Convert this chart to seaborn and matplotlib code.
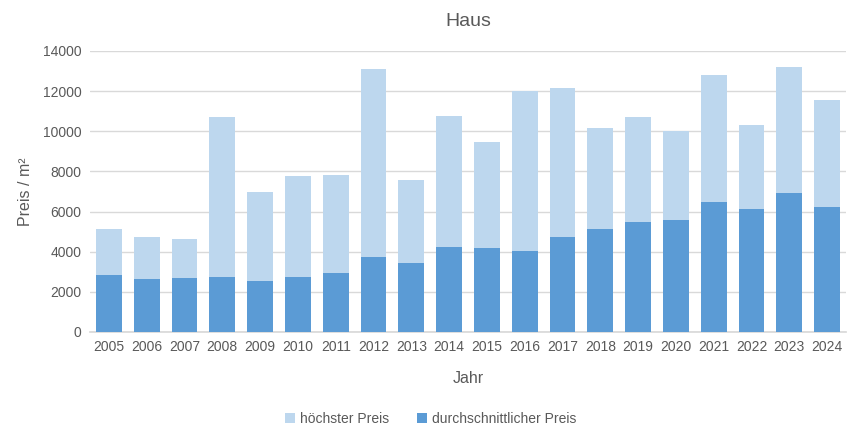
import matplotlib
matplotlib.use("Agg")
import matplotlib.pyplot as plt
import seaborn as sns
import pandas as pd
from matplotlib.patches import Patch

years = ["2005", "2006", "2007", "2008", "2009", "2010", "2011", "2012", "2013", "2014",
         "2015", "2016", "2017", "2018", "2019", "2020", "2021", "2022", "2023", "2024"]
hoechster = [5140, 4740, 4640, 10730, 6990, 7780, 7830, 13120, 7580, 10780,
             9480, 11990, 12170, 10180, 10730, 10030, 12820, 10330, 13220, 11580]
durchschnitt = [2840, 2640, 2690, 2740, 2540, 2740, 2940, 3740, 3440, 4240,
                4190, 4040, 4740, 5140, 5490, 5590, 6490, 6140, 6940, 6240]

sns.set_theme(style="white")
plt.rcParams['font.family'] = ['Liberation Sans', 'DejaVu Sans']

light = "#BDD7EE"
dark = "#5B9BD5"
txt = "#595959"

df = pd.DataFrame({"Jahr": years, "hoch": hoechster, "mittel": durchschnitt})

fig = plt.figure(figsize=(8.53, 4.33), dpi=100)
ax = fig.add_axes([0.1055, 0.2333, 0.8863, 0.649])

sns.barplot(data=df, x="Jahr", y="hoch", color=light, width=0.68, saturation=1, ax=ax,
            zorder=2, linewidth=0, edgecolor="none")
sns.barplot(data=df, x="Jahr", y="mittel", color=dark, width=0.68, saturation=1, ax=ax,
            zorder=3, linewidth=0, edgecolor="none")

ax.set_ylim(0, 14000)
ax.set_yticks(range(0, 14001, 2000))
ax.yaxis.grid(True, color="#D9D9D9", linewidth=1)
ax.set_axisbelow(True)
for s in ["top", "right", "left"]:
    ax.spines[s].set_visible(False)
ax.spines["bottom"].set_color("#D9D9D9")
ax.tick_params(axis="both", length=0, labelsize=10, colors=txt, pad=6)
ax.set_xlim(-0.5, len(years) - 0.5)

ax.set_xlabel("Jahr", fontsize=11.5, color=txt, labelpad=12)
ax.set_ylabel("Preis / m²", fontsize=11.5, color=txt, labelpad=7)
ax.set_title("Haus", fontsize=14, color=txt, pad=18)

handles = [Patch(facecolor=light, edgecolor="none", label="höchster Preis"),
           Patch(facecolor=dark, edgecolor="none", label="durchschnittlicher Preis")]
leg = fig.legend(handles=handles, loc="center", bbox_to_anchor=(0.505, 0.032), ncol=2,
                 frameon=False, fontsize=10, handlelength=0.7, handleheight=0.7,
                 handletextpad=0.4, columnspacing=2.0)
for t in leg.get_texts():
    t.set_color(txt)

fig.savefig("out.png", dpi=100)
